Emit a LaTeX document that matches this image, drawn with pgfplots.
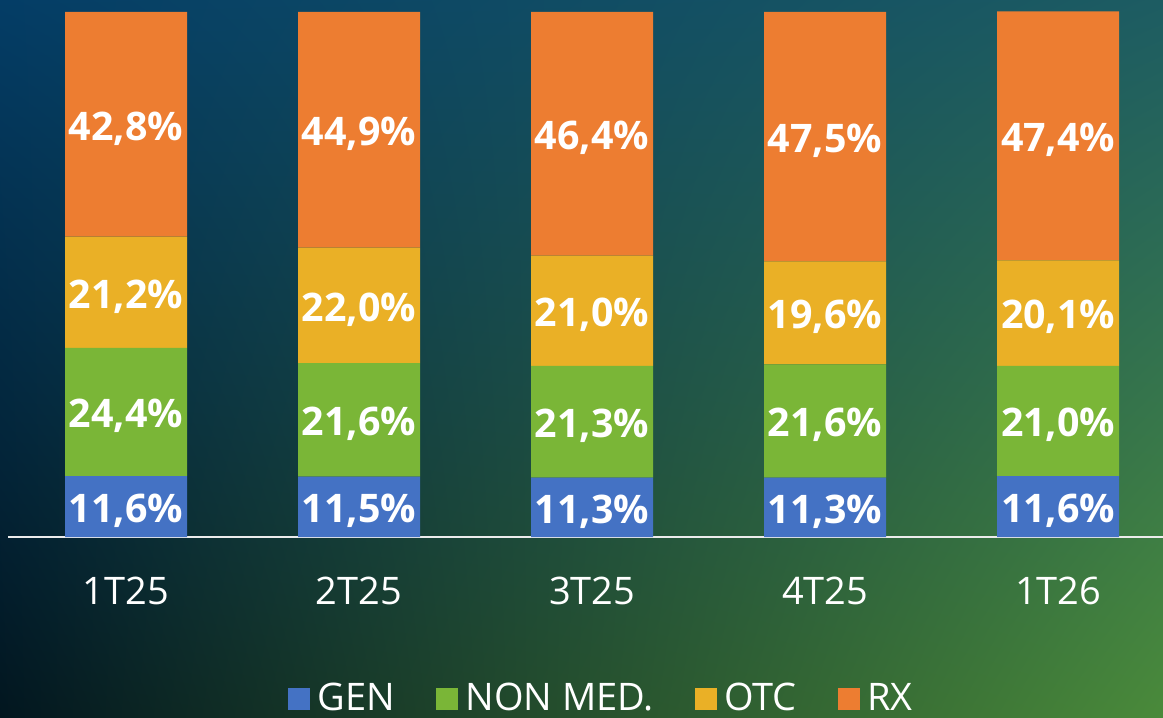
\documentclass[border=0pt]{standalone}
\usepackage{pgfplots}
\pgfplotsset{compat=1.18}
\usetikzlibrary{shadings}
\usepackage{fontspec}
\setmainfont{Open Sans}
\definecolor{gen}{HTML}{4472C4}
\definecolor{nonmed}{HTML}{7AB637}
\definecolor{otc}{HTML}{EAB026}
\definecolor{rx}{HTML}{ED7D31}
\definecolor{bgul}{HTML}{043D66}
\definecolor{bgur}{HTML}{1D5C62}
\definecolor{bgll}{HTML}{02161F}
\definecolor{bglr}{HTML}{4A8A3A}

% same frame for the bars and for the label layer
\pgfplotsset{
  chartbox/.style={
    at={(0.2cm,4.5cm)}, anchor=south west,
    scale only axis,
    width=28.875cm, height=13.125cm,
    xmin=-0.5064, xmax=4.45,
    ymin=0, ymax=100,
    clip=false,
  },
}

\begin{document}
\begin{tikzpicture}
\useasboundingbox (0,0) rectangle (29.075cm,17.925cm);
\shade[upper left=bgul, upper right=bgur, lower left=bgll, lower right=bglr]
  (0,0) rectangle (29.075cm,17.925cm);
\begin{axis}[
  chartbox,
  ybar stacked, bar width=3.05cm,
  axis x line*=bottom, axis y line=none,
  axis line style={draw=white!85!gray, line width=1.3pt},
  xtick=data, xticklabels={1T25,2T25,3T25,4T25,1T26},
  xtick style={draw=none},
  xticklabel style={text=white, inner sep=0pt, yshift=-1.0cm,
    font=\fontsize{27}{30}\selectfont},
  legend columns=4,
  legend style={at={(0.514,-0.3067)}, anchor=center, draw=none, fill=none,
    text=white, inner sep=0pt, font=\fontsize{27}{30}\selectfont,
    /tikz/every odd column/.append style={column sep=0.12cm},
    /tikz/every even column/.append style={column sep=0.95cm}},
  legend image code/.code={\fill[#1, draw=none] (0cm,-0.3cm) rectangle (0.55cm,0.25cm);},
]
\addplot[fill=gen, draw=none] coordinates {(0,11.6) (1,11.5) (2,11.3) (3,11.3) (4,11.6)};
\addplot[fill=nonmed, draw=none] coordinates {(0,24.4) (1,21.6) (2,21.3) (3,21.6) (4,21.0)};
\addplot[fill=otc, draw=none] coordinates {(0,21.2) (1,22.0) (2,21.0) (3,19.6) (4,20.1)};
\addplot[fill=rx, draw=none] coordinates {(0,42.8) (1,44.9) (2,46.4) (3,47.5) (4,47.4)};
\legend{GEN, NON MED., OTC, RX}
\end{axis}
% labels at the middle of each segment
\begin{axis}[
  chartbox, hide axis,
  nodes near coords, point meta=explicit symbolic,
  every node near coord/.append style={anchor=center, text=white, yshift=-0.1cm,
    font=\bfseries\fontsize{28}{30}\selectfont},
]
\addplot[draw=none, mark=none] coordinates {
  (0,5.8)[11,6\%] (1,5.75)[11,5\%] (2,5.65)[11,3\%] (3,5.65)[11,3\%] (4,5.8)[11,6\%]};
\addplot[draw=none, mark=none] coordinates {
  (0,23.8)[24,4\%] (1,22.3)[21,6\%] (2,21.95)[21,3\%] (3,22.1)[21,6\%] (4,22.1)[21,0\%]};
\addplot[draw=none, mark=none] coordinates {
  (0,46.6)[21,2\%] (1,44.1)[22,0\%] (2,43.1)[21,0\%] (3,42.7)[19,6\%] (4,42.65)[20,1\%]};
\addplot[draw=none, mark=none] coordinates {
  (0,78.6)[42,8\%] (1,77.55)[44,9\%] (2,76.8)[46,4\%] (3,76.25)[47,5\%] (4,76.4)[47,4\%]};
\end{axis}
\end{tikzpicture}
\end{document}
